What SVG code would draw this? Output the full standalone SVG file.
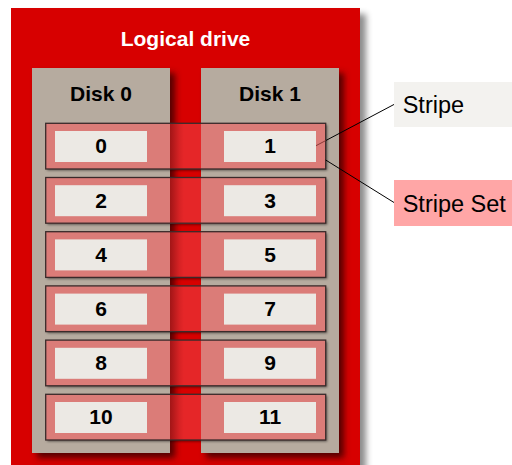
<svg xmlns="http://www.w3.org/2000/svg" width="512" height="465" viewBox="0 0 512 465">
<defs>
<filter id="shOuter" x="-10%" y="-10%" width="130%" height="130%">
<feDropShadow dx="6" dy="6" stdDeviation="3" flood-color="#000" flood-opacity="0.45"/>
</filter>
<filter id="shDisk" x="-20%" y="-10%" width="150%" height="130%">
<feDropShadow dx="5" dy="5" stdDeviation="3" flood-color="#400000" flood-opacity="0.85"/>
</filter>
<filter id="shStripe" x="-5%" y="-10%" width="110%" height="130%">
<feDropShadow dx="1.5" dy="1.5" stdDeviation="0.8" flood-color="#000" flood-opacity="0.5"/>
</filter>
<linearGradient id="gapShade" x1="0" y1="0" x2="1" y2="0">
<stop offset="0" stop-color="#500000" stop-opacity="0.45"/>
<stop offset="0.3" stop-color="#500000" stop-opacity="0.1"/>
<stop offset="0.45" stop-color="#500000" stop-opacity="0"/>
</linearGradient>
<style>
.bold{font-family:"Liberation Sans",Arial,sans-serif;font-weight:bold;font-size:21px;text-anchor:middle;fill:#000}
.title{fill:#fff}
.lbl{font-family:"Liberation Sans",Arial,sans-serif;font-size:23.5px;fill:#000}
.disk{fill:#b6ab9f}
.sfill{fill:#db7b78}
.gap{fill:#e52628}
.shade{fill:url(#gapShade)}
.sline{fill:none;stroke:#3a2a2a;stroke-width:1.3}
.cell{fill:#ece9e4}
.conn{stroke:#000;stroke-width:1;fill:none}
.tint{stroke:#8a3a38}
</style>
</defs>
<g id="logical-drive">
<rect x="11" y="8" width="349" height="470" fill="#d70000" filter="url(#shOuter)"/>
<text class="bold title" x="185.5" y="46">Logical drive</text>
</g>
<g id="disk0">
<rect class="disk" x="32" y="68" width="138" height="385" filter="url(#shDisk)"/>
<text class="bold" x="101" y="101">Disk 0</text>
</g>
<g id="disk1">
<rect class="disk" x="201" y="68" width="138" height="385" filter="url(#shDisk)"/>
<text class="bold" x="270" y="101">Disk 1</text>
</g>
<g id="stripe-sets">
<g id="stripe-set-0">
<rect class="sfill" x="45.7" y="123.3" width="280" height="45.7" filter="url(#shStripe)"/>
<rect class="gap" x="170" y="123.3" width="31" height="45.7"/>
<rect class="shade" x="170" y="123.3" width="31" height="45.7"/>
<rect class="sline" x="45.7" y="123.3" width="280" height="45.7"/>
<rect class="cell" x="55" y="131" width="92" height="31"/>
<rect class="cell" x="224" y="131" width="92" height="31"/>
<text class="bold" x="101" y="153.3">0</text>
<text class="bold" x="270" y="153.3">1</text>
</g>
<g id="stripe-set-1">
<rect class="sfill" x="45.7" y="177.5" width="280" height="45.7" filter="url(#shStripe)"/>
<rect class="gap" x="170" y="177.5" width="31" height="45.7"/>
<rect class="shade" x="170" y="177.5" width="31" height="45.7"/>
<rect class="sline" x="45.7" y="177.5" width="280" height="45.7"/>
<rect class="cell" x="55" y="185.2" width="92" height="31"/>
<rect class="cell" x="224" y="185.2" width="92" height="31"/>
<text class="bold" x="101" y="207.5">2</text>
<text class="bold" x="270" y="207.5">3</text>
</g>
<g id="stripe-set-2">
<rect class="sfill" x="45.7" y="231.7" width="280" height="45.7" filter="url(#shStripe)"/>
<rect class="gap" x="170" y="231.7" width="31" height="45.7"/>
<rect class="shade" x="170" y="231.7" width="31" height="45.7"/>
<rect class="sline" x="45.7" y="231.7" width="280" height="45.7"/>
<rect class="cell" x="55" y="239.4" width="92" height="31"/>
<rect class="cell" x="224" y="239.4" width="92" height="31"/>
<text class="bold" x="101" y="261.7">4</text>
<text class="bold" x="270" y="261.7">5</text>
</g>
<g id="stripe-set-3">
<rect class="sfill" x="45.7" y="285.9" width="280" height="45.7" filter="url(#shStripe)"/>
<rect class="gap" x="170" y="285.9" width="31" height="45.7"/>
<rect class="shade" x="170" y="285.9" width="31" height="45.7"/>
<rect class="sline" x="45.7" y="285.9" width="280" height="45.7"/>
<rect class="cell" x="55" y="293.6" width="92" height="31"/>
<rect class="cell" x="224" y="293.6" width="92" height="31"/>
<text class="bold" x="101" y="315.9">6</text>
<text class="bold" x="270" y="315.9">7</text>
</g>
<g id="stripe-set-4">
<rect class="sfill" x="45.7" y="340.1" width="280" height="45.7" filter="url(#shStripe)"/>
<rect class="gap" x="170" y="340.1" width="31" height="45.7"/>
<rect class="shade" x="170" y="340.1" width="31" height="45.7"/>
<rect class="sline" x="45.7" y="340.1" width="280" height="45.7"/>
<rect class="cell" x="55" y="347.8" width="92" height="31"/>
<rect class="cell" x="224" y="347.8" width="92" height="31"/>
<text class="bold" x="101" y="370.1">8</text>
<text class="bold" x="270" y="370.1">9</text>
</g>
<g id="stripe-set-5">
<rect class="sfill" x="45.7" y="394.3" width="280" height="45.7" filter="url(#shStripe)"/>
<rect class="gap" x="170" y="394.3" width="31" height="45.7"/>
<rect class="shade" x="170" y="394.3" width="31" height="45.7"/>
<rect class="sline" x="45.7" y="394.3" width="280" height="45.7"/>
<rect class="cell" x="55" y="402" width="92" height="31"/>
<rect class="cell" x="224" y="402" width="92" height="31"/>
<text class="bold" x="101" y="424.3">10</text>
<text class="bold" x="270" y="424.3">11</text>
</g>
</g>
<g id="connectors">
<line class="conn" x1="325.7" y1="140.6" x2="394.3" y2="104.3"/>
<line class="conn tint" x1="316" y1="145.7" x2="325.7" y2="140.6"/>
<line class="conn" x1="325.7" y1="160" x2="394.3" y2="202.7"/>
</g>
<g id="label-stripe">
<rect x="394" y="82" width="118" height="45" fill="#f3f2ef"/>
<text class="lbl" x="402.7" y="113.3">Stripe</text>
</g>
<g id="label-stripe-set">
<rect x="394" y="180" width="118" height="46" fill="#ffa6a6"/>
<text class="lbl" x="402.7" y="211.7">Stripe Set</text>
</g>
</svg>
